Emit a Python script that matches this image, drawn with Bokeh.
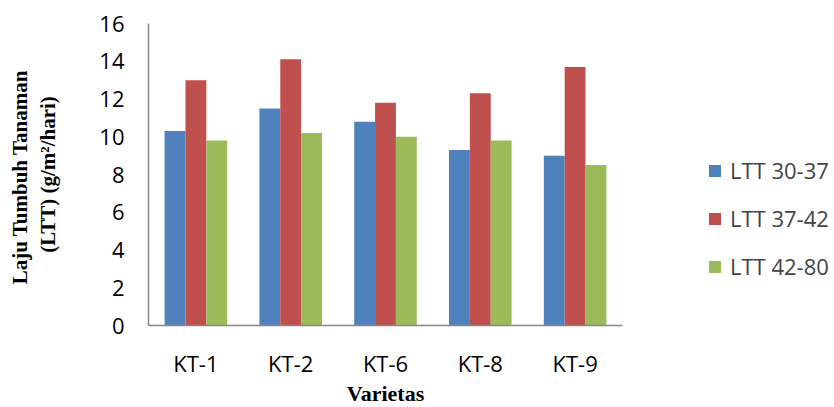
from bokeh.plotting import figure
from bokeh.models import ColumnDataSource, FactorRange, Legend, LegendItem, FixedTicker
from bokeh.transform import dodge
from bokeh.embed import file_html
from bokeh.resources import INLINE

categories = ["KT-1", "KT-2", "KT-6", "KT-8", "KT-9"]
series_names = ["LTT 30-37", "LTT 37-42", "LTT 42-80"]
ltt_30_37 = [10.3, 11.5, 10.8, 9.3, 9.0]
ltt_37_42 = [13.0, 14.1, 11.8, 12.3, 13.7]
ltt_42_80 = [9.8, 10.2, 10.0, 9.8, 8.5]
y_ticks = [0, 2, 4, 6, 8, 10, 12, 14, 16]

colors = ["#4F81BD", "#C0504D", "#9BBB59"]

source = ColumnDataSource(data=dict(cat=categories, a=ltt_30_37, b=ltt_37_42, c=ltt_42_80))

p = figure(x_range=FactorRange(*categories), y_range=(0, 16),
           frame_width=474, frame_height=302, output_backend="svg", toolbar_location=None,
           min_border_left=148, min_border_right=0, min_border_top=23, min_border_bottom=0)

renderers = []
for col, off, color in zip(["a", "b", "c"], [-0.22, 0.0, 0.22], colors):
    r = p.vbar(x=dodge("cat", off, range=p.x_range), top=col, width=0.22, source=source,
               fill_color=color, line_color=None)
    renderers.append(r)

p.xgrid.visible = False
p.ygrid.visible = False
p.outline_line_color = None
p.x_range.range_padding = 0.0

p.yaxis.ticker = FixedTicker(ticks=y_ticks)
for ax in (p.xaxis[0], p.yaxis[0]):
    ax.major_tick_line_color = None
    ax.minor_tick_line_color = None
    ax.major_tick_out = 0
    ax.major_tick_in = 0
    ax.minor_tick_out = 0
    ax.axis_line_color = "#868686"
    ax.axis_line_width = 1.5
    ax.major_label_text_font = "Open Sans"
    ax.major_label_text_font_size = "22px"
    ax.major_label_text_color = "#000000"
    ax.axis_label_text_font = "Liberation Serif"
    ax.axis_label_text_font_style = "bold"
    ax.axis_label_text_color = "#000000"

p.yaxis.major_label_standoff = 24
p.yaxis.axis_label = "Laju Tumbuh  Tanaman\n(LTT) (g/m\u00b2/hari)"
p.yaxis.axis_label_text_font_size = "21px"
p.yaxis.axis_label_standoff = 36

p.xaxis.major_label_standoff = 22
p.xaxis.axis_label = "Varietas"
p.xaxis.axis_label_text_font_size = "22px"
p.xaxis.axis_label_standoff = 0

legend = Legend(items=[LegendItem(label=n, renderers=[r]) for n, r in zip(series_names, renderers)],
                location=(85, 44), orientation="vertical",
                glyph_width=15, glyph_height=15, label_height=22, spacing=18,
                padding=0, margin=0, border_line_color=None, background_fill_alpha=0,
                label_text_font="Open Sans", label_text_font_size="22px",
                label_standoff=8)
p.add_layout(legend, "right")

open("out.html", "w").write(file_html(p, INLINE))
